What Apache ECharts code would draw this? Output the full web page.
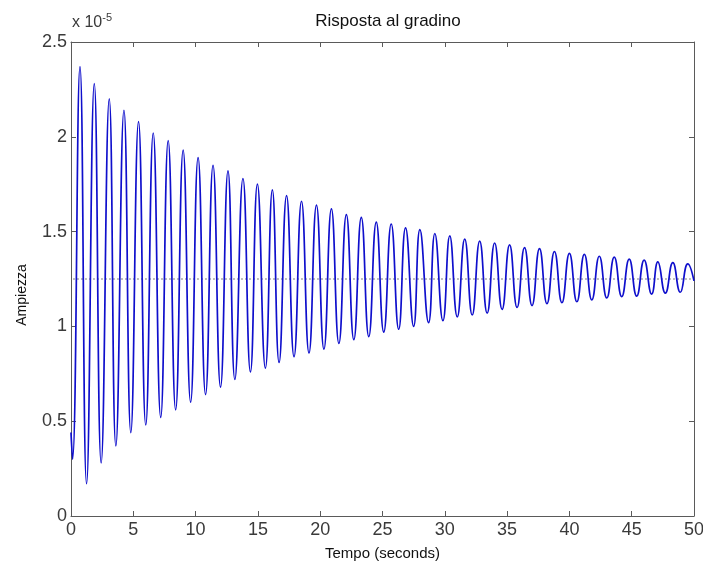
<!DOCTYPE html>
<html>
<head>
<meta charset="utf-8">
<script src="https://cdn.jsdelivr.net/npm/echarts@6/dist/echarts.min.js"></script>
<style>
  html, body { margin: 0; padding: 0; background: #fff; }
  #chart { width: 703px; height: 570px; }
</style>
</head>
<body>
<div id="chart"></div>
<script>
// Step response, amplitude in units of 1e-5
const peakTimes = [0.72, 1.87, 3.07, 4.25, 5.42, 6.60, 7.80, 9.00, 10.20, 11.40, 12.60, 13.80,
  14.96, 16.16, 17.30, 18.50, 19.70, 20.90, 22.10, 23.30, 24.50, 25.70, 26.85, 28.00, 29.20,
  30.40, 31.60, 32.80, 34.00, 35.20, 36.40, 37.60, 38.80, 40.00, 41.20, 42.40, 43.60, 44.80,
  46.00, 47.10, 48.30, 49.50];
const peakVals = [2.37, 2.28, 2.20, 2.14, 2.08, 2.02, 1.98, 1.93, 1.89, 1.85, 1.82, 1.78,
  1.75, 1.72, 1.69, 1.66, 1.64, 1.62, 1.59, 1.575, 1.55, 1.54, 1.52, 1.51, 1.49,
  1.477, 1.46, 1.45, 1.44, 1.43, 1.415, 1.41, 1.395, 1.385, 1.38, 1.37, 1.365, 1.355,
  1.35, 1.34, 1.336, 1.33];
const troughTimes = [0.12, 1.25, 2.42, 3.60, 4.80, 6.00, 7.20, 8.40, 9.60, 10.80, 12.00, 13.15,
  14.40, 15.60, 16.70, 17.90, 19.10, 20.30, 21.50, 22.70, 23.90, 25.10, 26.30, 27.50, 28.70,
  29.85, 31.00, 32.20, 33.40, 34.60, 35.80, 37.00, 38.20, 39.40, 40.60, 41.80, 43.00, 44.20,
  45.40, 46.60, 47.70, 48.90];
const troughVals = [0.30, 0.17, 0.28, 0.37, 0.44, 0.48, 0.52, 0.56, 0.60, 0.64, 0.68, 0.72,
  0.76, 0.78, 0.81, 0.84, 0.86, 0.88, 0.91, 0.93, 0.946, 0.97, 0.985, 1.00, 1.02,
  1.03, 1.05, 1.06, 1.07, 1.09, 1.10, 1.11, 1.12, 1.125, 1.13, 1.14, 1.15, 1.157,
  1.16, 1.17, 1.175, 1.18];
const startPoint = [0, 0.44];
const endPoint = [50, 1.24];
const finalValue = 1.25;
const finalSpan = [0.2, 50];

const xTicks = { min: 0, max: 50, step: 5 };
const yTicks = { min: 0, max: 2.5, step: 0.5 };

// merge extremes into one time-ordered trace
const response = [startPoint];
peakTimes.forEach((t, i) => response.push([t, peakVals[i]]));
troughTimes.forEach((t, i) => response.push([t, troughVals[i]]));
response.push(endPoint);
response.sort((a, b) => a[0] - b[0]);

const steady = finalSpan.map(t => [t, finalValue]);

const axisColor = '#5a5a5a';
const labelFont = { color: '#3a3a3a', fontFamily: 'Liberation Sans Narrow, Arial, sans-serif', fontSize: 18 };

function xAxisDef(pos, showLabel) {
  return {
    type: 'value', position: pos, min: xTicks.min, max: xTicks.max, interval: xTicks.step,
    axisLine: { show: true, onZero: false, lineStyle: { color: axisColor, width: 1 } },
    axisTick: { show: true, inside: true, length: 5, lineStyle: { color: axisColor } },
    axisLabel: Object.assign({ show: showLabel, margin: 5 }, labelFont),
    splitLine: { show: false }
  };
}
function yAxisDef(pos, showLabel) {
  return {
    type: 'value', position: pos, min: yTicks.min, max: yTicks.max, interval: yTicks.step,
    axisLine: { show: true, onZero: false, lineStyle: { color: axisColor, width: 1 } },
    axisTick: { show: true, inside: true, length: 5, lineStyle: { color: axisColor } },
    axisLabel: Object.assign({ show: showLabel, margin: 4 }, labelFont),
    splitLine: { show: false }
  };
}

const chart = echarts.init(document.getElementById('chart'), null, { renderer: 'canvas' });
chart.setOption({
  animation: false,
  backgroundColor: '#fff',
  title: {
    text: 'Risposta al gradino',
    left: 383, top: 8, textAlign: 'center',
    textStyle: { fontFamily: 'Liberation Sans, Arial, sans-serif', fontWeight: 'normal', fontSize: 17, color: '#111' }
  },
  grid: { left: 71, right: 9, top: 42, bottom: 54, containLabel: false, outerBoundsMode: 'none' },
  xAxis: [
    Object.assign(xAxisDef('bottom', true), {
      name: 'Tempo (seconds)', nameLocation: 'middle', nameGap: 30,
      nameTextStyle: { fontFamily: 'Liberation Sans, Arial, sans-serif', fontSize: 15, color: '#111' }
    }),
    xAxisDef('top', false)
  ],
  yAxis: [yAxisDef('left', true), yAxisDef('right', false)],
  graphic: [
    {
      type: 'text', left: 72, top: 12,
      style: {
        text: 'x 10{sup|-5}',
        fill: '#3a3a3a',
        font: '16px "Liberation Sans Narrow", Arial, sans-serif',
        rich: { sup: { fontSize: 11, verticalAlign: 'top', padding: [0, 0, 10, 0], fill: '#3a3a3a' } }
      }
    },
    {
      type: 'text', x: 22, y: 295, rotation: Math.PI / 2,
      style: {
        text: 'Ampiezza', align: 'center', verticalAlign: 'middle',
        fill: '#111', font: '14px "Liberation Sans", Arial, sans-serif'
      }
    }
  ],
  series: [
    {
      type: 'line', data: steady, xAxisIndex: 0, yAxisIndex: 0,
      showSymbol: false, silent: true,
      lineStyle: { color: '#000', width: 1, type: [1, 3] }
    },
    {
      type: 'line', data: response, xAxisIndex: 0, yAxisIndex: 0,
      showSymbol: false, smooth: 0.5, silent: true,
      lineStyle: { color: '#0f0fcc', width: 1.7 }
    }
  ]
});
</script>
</body>
</html>
